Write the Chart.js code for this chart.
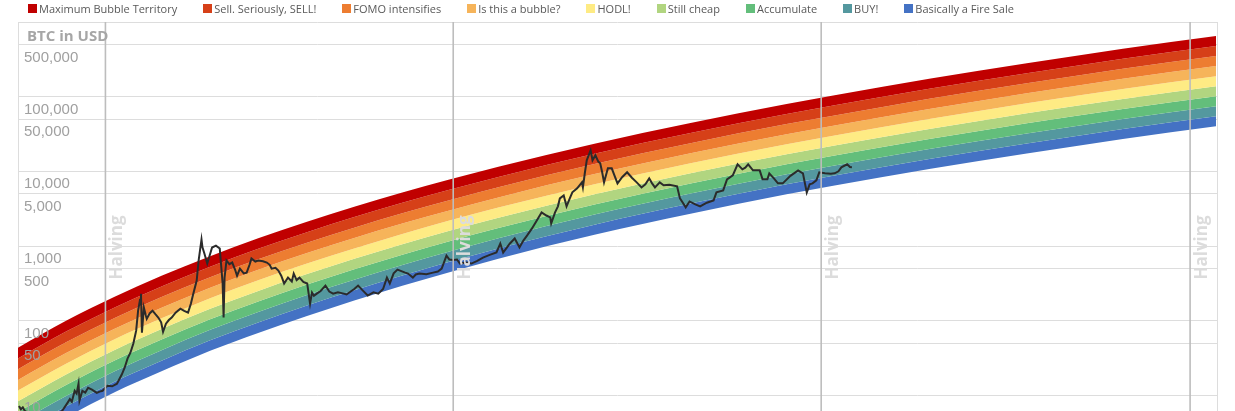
<!DOCTYPE html>
<html>
<head>
<meta charset="utf-8">
<title>Bitcoin Rainbow Price Chart</title>
<script src="https://cdn.jsdelivr.net/npm/chart.js@4/dist/chart.umd.js"></script>
<style>
  html, body { margin: 0; padding: 0; background: #fff; overflow: hidden; width: 1235px; height: 411px; }
  #wrap { position: relative; width: 1235px; height: 411px; overflow: hidden; }
  #chart { position: absolute; left: 0; top: 0; }
  #legend { position: absolute; left: 28px; top: 0; height: 17px; display: flex; align-items: center; gap: 26px;
            font: 11px "Open Sans", sans-serif; color: #595959; white-space: nowrap; }
  #legend span { display: flex; align-items: center; gap: 2px; }
  #legend i { display: block; width: 9px; height: 9px; }
</style>
</head>
<body>
<div id="wrap">
  <canvas id="chart" width="1235" height="485"></canvas>
  <div id="legend"></div>
</div>
<script>
const bandNames = ['Maximum Bubble Territory', 'Sell. Seriously, SELL!', 'FOMO intensifies', 'Is this a bubble?', 'HODL!', 'Still cheap', 'Accumulate', 'BUY!', 'Basically a Fire Sale'];
const bandColors = ['#c00000', '#d64018', '#ed7d31', '#f6b45a', '#feeb84', '#b1d580', '#63be7b', '#54989f', '#4472c4'];

const tickValues = [1000000, 500000, 100000, 50000, 10000, 5000, 1000, 500, 100, 50, 10, 1];
const tickLabels = ['', '500,000', '100,000', '50,000', '10,000', '5,000', '1,000', '500', '100', '50', '10', ''];
const halvings = [2012.91, 2016.53, 2020.36, 2024.2];

// band edges, top of red down to bottom of blue, read at these dates
const bandYears = [2012, 2012.5, 2013, 2013.5, 2014, 2014.5, 2015, 2016, 2017, 2018, 2019, 2020, 2021, 2022, 2023, 2024, 2024.47];
const edge0 = [43.4, 99.4, 207.4, 401.8, 731.7, 1269, 2100, 5210, 11530, 23470, 44360, 79560, 135400, 221900, 350700, 538900, 648800];
const edge1 = [31.2, 71.4, 149.5, 289.6, 529, 917.4, 1521, 3784, 8413, 17180, 32520, 58410, 99400, 162900, 257400, 395600, 476300];
const edge2 = [22.4, 51.3, 107.7, 208.7, 382.4, 663.3, 1101, 2748, 6139, 12570, 23840, 42880, 72970, 119600, 189000, 290400, 349700];
const edge3 = [16.1, 36.9, 77.6, 150.4, 276.5, 479.5, 797, 1996, 4479, 9201, 17470, 31480, 53570, 87800, 138800, 213200, 256700];
const edge4 = [11.57, 26.5, 55.9, 108.4, 199.9, 346.7, 577, 1450, 3268, 6734, 12810, 23110, 39330, 64450, 101900, 156500, 188400];
const edge5 = [8.31, 19.0, 40.3, 78.1, 144.5, 250.6, 418, 1053, 2385, 4929, 9390, 16960, 28870, 47320, 74780, 114900, 138300];
const edge6 = [5.97, 13.7, 29.1, 56.3, 104.5, 181.2, 303, 765, 1740, 3607, 6880, 12450, 21190, 34740, 54900, 84360, 101600];
const edge7 = [4.29, 9.83, 20.9, 40.6, 75.5, 131, 219, 555, 1270, 2640, 5045, 9140, 15560, 25500, 40300, 61930, 74560];
const edge8 = [3.08, 7.06, 15.1, 29.3, 54.6, 94.7, 159, 403, 927, 1932, 3698, 6710, 11420, 18720, 29590, 45460, 54740];
const edge9 = [2.21, 5.07, 10.9, 21.1, 39.5, 68.5, 115, 293, 676, 1414, 2711, 4926, 8385, 13740, 21720, 33370, 40180];
const edges = [edge0, edge1, edge2, edge3, edge4, edge5, edge6, edge7, edge8, edge9];

const priceYears = [
  2012.01, 2012.03, 2012.05, 2012.07, 2012.15, 2012.23, 2012.35, 2012.44, 2012.46, 2012.50, 2012.54, 2012.56, 2012.59, 2012.61, 2012.63, 2012.64, 2012.67, 2012.70, 2012.73, 2012.77, 2012.82, 2012.85, 2012.88, 2012.93, 2012.98,
  2013.03, 2013.08, 2013.11, 2013.14, 2013.17, 2013.20, 2013.23, 2013.25, 2013.27, 2013.28, 2013.29, 2013.31, 2013.33, 2013.34, 2013.37, 2013.40, 2013.43, 2013.46, 2013.49, 2013.51, 2013.54, 2013.57, 2013.60, 2013.64, 2013.69, 2013.73, 2013.77, 2013.80, 2013.82, 2013.86, 2013.88, 2013.91, 2013.92, 2013.94, 2013.97,
  2014.02, 2014.06, 2014.10, 2014.13, 2014.14, 2014.15, 2014.17, 2014.20, 2014.23, 2014.26, 2014.28, 2014.31, 2014.35, 2014.38, 2014.41, 2014.43, 2014.47, 2014.50, 2014.55, 2014.59, 2014.62, 2014.64, 2014.68, 2014.71, 2014.74, 2014.77, 2014.81, 2014.85, 2014.87, 2014.90, 2014.93, 2014.97,
  2015.01, 2015.04, 2015.06, 2015.08, 2015.11, 2015.15, 2015.20, 2015.24, 2015.28, 2015.33, 2015.38, 2015.42, 2015.47, 2015.50, 2015.54, 2015.58, 2015.64, 2015.70, 2015.75, 2015.80, 2015.84, 2015.87, 2015.91, 2015.95,
  2016.03, 2016.06, 2016.11, 2016.14, 2016.18, 2016.25, 2016.32, 2016.37, 2016.41, 2016.46, 2016.49, 2016.53, 2016.57, 2016.60, 2016.66, 2016.72, 2016.78, 2016.84, 2016.91, 2016.98,
  2017.02, 2017.05, 2017.09, 2017.12, 2017.17, 2017.22, 2017.26, 2017.30, 2017.35, 2017.40, 2017.45, 2017.50, 2017.54, 2017.55, 2017.59, 2017.62, 2017.64, 2017.68, 2017.71, 2017.74, 2017.77, 2017.82, 2017.87, 2017.88, 2017.90, 2017.92, 2017.96, 2017.98,
  2018.01, 2018.04, 2018.06, 2018.08, 2018.10, 2018.14, 2018.18, 2018.21, 2018.24, 2018.29, 2018.34, 2018.39, 2018.44, 2018.49, 2018.53, 2018.57, 2018.60, 2018.63, 2018.68, 2018.72, 2018.78, 2018.86, 2018.89, 2018.92, 2018.95, 2018.99,
  2019.05, 2019.10, 2019.17, 2019.24, 2019.27, 2019.34, 2019.38, 2019.44, 2019.49, 2019.54, 2019.57, 2019.60, 2019.65, 2019.72, 2019.75, 2019.80, 2019.82, 2019.87, 2019.91, 2019.96,
  2020.04, 2020.12, 2020.17, 2020.21, 2020.24, 2020.27, 2020.31, 2020.34, 2020.40, 2020.46, 2020.50, 2020.54, 2020.57, 2020.63, 2020.66, 2020.68
];
const priceUsd = [
  7.2, 6.5, 6.9, 6.2, 5.4, 5.1, 5.2, 6.0, 6.2, 7.4, 8.9, 8.2, 11.5, 10.6, 14.3, 8.5, 11.5, 10.9, 12.6, 11.9, 10.8, 11.2, 11.5, 13.4, 13.2,
  14.3, 19, 23.4, 31, 37.2, 49, 73.5, 136, 190, 230, 69, 150, 118, 106, 125, 136, 122, 110, 95, 71, 91, 102, 110, 128, 145, 135, 128, 170, 217, 345, 639, 1224, 960, 793, 582,
  955, 1010, 926, 315, 110, 377, 640, 570, 600, 480, 400, 498, 430, 440, 560, 680, 620, 640, 625, 600, 560, 498, 510, 468, 400, 315, 377, 334, 427, 350, 377, 330,
  315, 169, 238, 215, 230, 250, 295, 245, 230, 240, 232, 224, 250, 265, 295, 260, 217, 240, 230, 265, 377, 315, 430, 483,
  440, 427, 377, 415, 427, 420, 440, 455, 498, 745, 660, 650, 660, 582, 600, 582, 630, 700, 760, 818,
  1080, 818, 960, 1080, 1260, 955, 1180, 1385, 1720, 2200, 2815, 2560, 2415, 2005, 2815, 3400, 4340, 4760, 3400, 4250, 5230, 5920, 7120, 6100, 9500, 14050, 19150, 14050,
  16410, 13500, 12810, 9800, 7120, 10970, 10970, 8700, 6900, 8400, 9700, 8200, 7120, 6090, 6700, 8050, 6900, 6090, 7120, 6500, 6600, 6290, 4340, 3800, 3290, 3950,
  3600, 3390, 3800, 4080, 5220, 5560, 7810, 8830, 12420, 10640, 11200, 12420, 10310, 10310, 7810, 7810, 9400, 8000, 6900, 6900,
  8700, 10310, 9400, 5220, 6700, 6900, 7570, 9700, 9400, 9300, 9400, 10000, 11320, 12420, 11400, 11320
];

document.getElementById('legend').innerHTML = bandNames.map((n, i) =>
  '<span><i style="background:' + bandColors[i] + '"></i>' + n + '</span>').join('');

function xy(xs, ys) { return xs.map((x, i) => ({ x, y: ys[i] })); }

const datasets = edges.map((e, i) => ({
  label: i < bandNames.length ? bandNames[i] : 'bottom',
  data: xy(bandYears, e),
  borderWidth: 0,
  pointRadius: 0,
  cubicInterpolationMode: 'monotone',
  backgroundColor: bandColors[i] || 'transparent',
  fill: i < bandNames.length ? '+1' : false,
  order: 2
}));
datasets.push({
  label: 'BTC',
  data: xy(priceYears, priceUsd),
  borderColor: '#2b2b2b',
  borderWidth: 2,
  pointRadius: 0,
  tension: 0,
  fill: false,
  order: 1
});

const overlay = {
  id: 'overlay',
  afterDatasetsDraw(chart) {
    const { ctx, scales: { x }, chartArea: a } = chart;
    ctx.save();
    halvings.forEach(h => {
      const px = x.getPixelForValue(h);
      ctx.strokeStyle = '#bdbdbd';
      ctx.lineWidth = 1.6;
      ctx.beginPath(); ctx.moveTo(px, a.top); ctx.lineTo(px, a.bottom); ctx.stroke();
      ctx.save();
      ctx.translate(px + 12, 247.5);
      ctx.rotate(-Math.PI / 2);
      ctx.fillStyle = '#dcdcdc';
      ctx.font = 'bold 17px "Open Sans", sans-serif';
      ctx.textAlign = 'center';
      ctx.textBaseline = 'middle';
      ctx.fillText('Halving', 0, 0);
      ctx.restore();
    });
    ctx.fillStyle = '#a6a6a6';
    ctx.font = 'bold 15px "Open Sans", sans-serif';
    ctx.textAlign = 'left';
    ctx.textBaseline = 'middle';
    ctx.fillText('BTC in USD', a.left + 9, 37);
    ctx.restore();
  }
};

new Chart(document.getElementById('chart').getContext('2d'), {
  type: 'line',
  data: { datasets },
  plugins: [overlay],
  options: {
    responsive: false,
    animation: false,
    devicePixelRatio: 1,
    layout: { padding: { left: 6, right: 18, top: 22, bottom: 10 } },
    plugins: { legend: { display: false }, tooltip: { enabled: false } },
    scales: {
      x: {
        type: 'linear',
        min: 2012,
        max: 2024.48,
        afterBuildTicks: s => { s.ticks = [{ value: s.min }, { value: s.max }]; },
        ticks: { display: false },
        grid: { color: '#dddddd', drawTicks: false },
        border: { display: false }
      },
      y: {
        type: 'logarithmic',
        min: 1,
        max: 1000000,
        afterBuildTicks: s => { s.ticks = tickValues.map(value => ({ value })); },
        grid: { color: '#dddddd', drawTicks: false },
        border: { display: false },
        ticks: {
          mirror: true,
          padding: 6,
          labelOffset: 13,
          z: 1,
          autoSkip: false,
          color: '#a0a0a0',
          font: { family: '"Liberation Sans", Arial, sans-serif', size: 15 },
          callback: v => tickLabels[tickValues.indexOf(v)]
        }
      }
    }
  }
});
</script>
</body>
</html>
